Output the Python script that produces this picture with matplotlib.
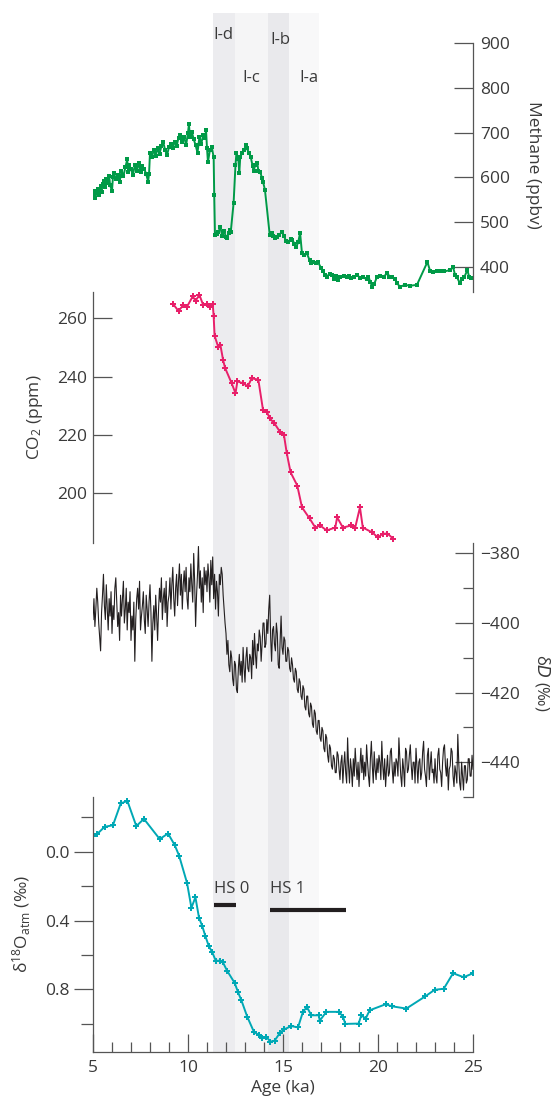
"""Four stacked palaeoclimate records (CH4, CO2, dD, d18Oatm) against age."""
import matplotlib
matplotlib.use("Agg")
import matplotlib.pyplot as plt
import numpy as np
from matplotlib.ticker import MultipleLocator

plt.rcParams["font.family"] = ["Open Sans", "DejaVu Sans"]
plt.rcParams["mathtext.default"] = "regular"

TXT = "#3a3a3a"
SPINE = "#555555"
C_CH4 = "#009a47"
C_CO2 = "#e8206a"
C_DD = "#231f20"
C_O18 = "#00a8b5"

# --------------------------------------------------------------------------- #
# Data
# --------------------------------------------------------------------------- #
ch4_age = [5.0, 5.05, 5.1, 5.2, 5.25, 5.3, 5.4, 5.45, 5.5, 5.6, 5.65, 5.7, 5.8, 5.85,
           5.9, 6.0, 6.05, 6.1, 6.2, 6.3, 6.4, 6.5, 6.6, 6.7, 6.8, 6.85, 6.9, 7.0,
           7.1, 7.2, 7.3, 7.4, 7.5, 7.6, 7.7, 7.8, 7.9, 7.95, 8.0, 8.1, 8.2, 8.3,
           8.4, 8.5, 8.6, 8.7, 8.8, 8.9, 9.0, 9.1, 9.2, 9.3, 9.4, 9.5, 9.6, 9.7,
           9.8, 9.9, 10.0, 10.05, 10.1, 10.2, 10.3, 10.4, 10.5, 10.6, 10.7, 10.8,
           10.9, 10.95, 11.0, 11.05, 11.15, 11.25, 11.35, 11.38, 11.42, 11.5, 11.6,
           11.7, 11.8, 11.9, 12.0, 12.05, 12.15, 12.2, 12.25, 12.4, 12.5, 12.55,
           12.65, 12.7, 12.75, 12.85, 12.95, 13.05, 13.1, 13.2, 13.3, 13.4, 13.45,
           13.55, 13.65, 13.7, 13.8, 13.9, 13.95, 14.05, 14.3, 14.4, 14.5, 14.6,
           14.7, 14.8, 14.95, 15.05, 15.15, 15.25, 15.4, 15.5, 15.6, 15.7, 15.8,
           15.9, 16.0, 16.1, 16.25, 16.4, 16.5, 16.6, 16.75, 16.85, 17.0, 17.1,
           17.2, 17.3, 17.45, 17.6, 17.7, 17.8, 17.9, 18.0, 18.2, 18.35, 18.5,
           18.6, 18.75, 18.9, 19.05, 19.2, 19.4, 19.5, 19.6, 19.7, 19.8, 19.95,
           20.1, 20.3, 20.5, 20.6, 20.75, 20.9, 21.0, 21.15, 21.4, 21.7, 22.05,
           22.6, 22.75, 22.9, 23.1, 23.3, 23.5, 23.8, 23.95, 24.05, 24.15, 24.3,
           24.4, 24.55, 24.7, 24.8, 24.9]
ch4_ppbv = [561, 570, 553, 566, 575, 560, 580, 568, 585, 592, 578, 597, 588, 604,
            582, 570, 600, 610, 596, 606, 590, 614, 603, 622, 640, 612, 628, 618,
            605, 627, 615, 632, 612, 625, 618, 608, 590, 608, 655, 645, 662, 648,
            665, 652, 670, 678, 660, 650, 668, 675, 665, 680, 670, 688, 695, 680,
            690, 672, 700, 719, 690, 702, 685, 672, 655, 690, 675, 695,
            688, 705, 665, 634, 660, 668, 645, 561, 471, 473, 478,
            489, 470, 481, 466, 465, 475, 483, 478, 543, 628, 655,
            640, 610, 645, 655, 661, 672, 665, 655, 646, 625, 615,
            628, 632, 615, 612, 598, 590, 572, 472, 476, 468, 465,
            467, 472, 478, 470, 458, 455, 462, 460, 452, 445, 455,
            476, 430, 427, 431, 415, 409, 411, 409, 410, 398, 392,
            382, 378, 385, 382, 374, 380, 371, 378, 380, 377, 380,
            376, 378, 382, 376, 378, 372, 378, 366, 355, 362, 378,
            380, 378, 387, 378, 378, 372, 365, 355, 360, 358, 360,
            411, 390, 389, 392, 392, 390, 393, 400, 383, 378, 364,
            372, 378, 393, 378, 375]

co2_age = [9.2, 9.5, 9.75, 9.95, 10.25, 10.4, 10.6, 10.8, 11.0, 11.15, 11.3,
           11.35, 11.4, 11.6, 11.7, 11.85, 11.95, 12.3, 12.5, 12.6, 12.9, 13.15,
           13.35, 13.7, 13.95, 14.15, 14.3, 14.55, 14.85, 15.05, 15.2, 15.4,
           15.75, 16.0, 16.4, 16.7, 16.95, 17.3, 17.75, 17.85, 18.15, 18.6,
           18.8, 19.05, 19.2, 19.7, 20.0, 20.25, 20.5, 20.8]
co2_ppm = [265, 262.5, 264.5, 264, 267.5, 266, 268, 264.5, 265, 264, 265,
           260.7, 254, 250, 251, 245.6, 243, 237.7, 234.3, 238.4, 237.7, 236.7,
           239.4, 239, 228.5, 228, 225.7, 224, 221, 220, 213.7, 207.2,
           202.7, 195.2, 191.4, 188.3, 189, 187.3, 188.3, 191.8, 188.3, 189,
           188.3, 195.2, 188.3, 186.6, 184.9, 186.2, 186.2, 184.5]

# dD sampled every 0.05 ka from 5.0 ka (one row per ka)
dd_start, dd_step = 5.0, 0.05
dd_permil = [
    -399, -393, -401, -396, -390, -394, -400, -404, -408, -397,
    -392, -386, -395, -399, -389, -396, -402, -393, -398, -391,   # 5
    -403, -395, -399, -390, -387, -394, -401, -397, -405, -392,
    -398, -393, -388, -400, -396, -390, -402, -394, -397, -391,   # 6
    -405, -398, -402, -394, -411, -399, -393, -390, -396, -388,
    -402, -398, -395, -391, -399, -403, -392, -396, -401, -394,   # 7
    -389, -397, -411, -400, -395, -402, -392, -398, -405, -396,
    -390, -394, -387, -399, -393, -390, -397, -388, -401, -394,   # 8
    -392, -387, -396, -389, -384, -393, -398, -390, -386, -395,
    -388, -383, -392, -386, -396, -389, -385, -391, -384, -393,   # 9
    -396, -387, -391, -383, -389, -394, -380, -388, -401, -392,
    -386, -378, -390, -385, -394, -387, -397, -384, -389, -385,   # 10
    -391, -383, -387, -394, -382, -389, -381, -393, -386, -396,
    -388, -391, -398, -386, -389, -384, -386, -392, -396, -400,   # 11
    -403, -409, -405, -412, -414, -408, -410, -416, -418, -411,
    -412, -419, -420, -413, -409, -415, -411, -417, -407, -413,   # 12
    -417, -410, -407, -413, -414, -409, -410, -416, -405, -412,
    -403, -409, -413, -406, -408, -402, -404, -411, -406, -400,   # 13
    -400, -407, -406, -399, -403, -396, -392, -404, -411, -402,
    -401, -406, -408, -400, -403, -412, -413, -405, -398, -407,   # 14
    -409, -404, -405, -411, -411, -407, -408, -413, -414, -410,
    -412, -416, -417, -413, -414, -419, -420, -416, -417, -421,   # 15
    -422, -418, -419, -424, -425, -421, -421, -426, -427, -423,
    -424, -429, -430, -425, -426, -431, -432, -428, -428, -433,   # 16
    -434, -430, -431, -436, -437, -432, -433, -438, -440, -435,
    -436, -441, -442, -438, -439, -443, -443, -437, -438, -442,   # 17
    -445, -440, -438, -446, -441, -437, -443, -446, -433, -441,
    -446, -439, -442, -447, -439, -444, -436, -441, -445, -440,   # 18
    -447, -441, -436, -443, -438, -445, -440, -444, -435, -440,
    -444, -447, -439, -434, -441, -446, -437, -442, -445, -439,   # 19
    -443, -438, -440, -445, -434, -441, -445, -439, -447, -442,
    -438, -444, -443, -437, -436, -442, -446, -440, -444, -439,   # 20
    -440, -444, -433, -439, -444, -447, -439, -442, -447, -436,
    -437, -443, -442, -438, -435, -441, -445, -440, -440, -446,   # 21
    -436, -441, -446, -440, -439, -445, -443, -437, -434, -442,
    -444, -447, -438, -436, -445, -441, -437, -443, -442, -446,   # 22
    -439, -444, -446, -438, -436, -442, -443, -447, -440, -436,
    -435, -441, -444, -439, -448, -442, -441, -436, -437, -444,   # 23
    -447, -441, -443, -446, -432, -440, -446, -448, -440, -444,
    -448, -441, -441, -446, -445, -439, -439, -444, -444, -438,   # 24
    -442,                                                         # 25
]

o18_age = [5.0, 5.2, 5.61, 6.05, 6.46, 6.81, 7.28, 7.68, 8.51, 8.95, 9.3, 9.53,
           9.95, 10.18, 10.39, 10.58, 10.75, 10.91, 11.09, 11.28, 11.46, 11.67,
           11.84, 12.05, 12.46, 12.63, 12.81, 13.12, 13.47, 13.74, 13.91, 14.12,
           14.33, 14.56, 14.82, 15.05, 15.44, 15.79, 16.05, 16.26, 16.49, 16.89,
           16.93, 17.28, 17.95, 18.16, 18.28, 18.98, 19.12, 19.35, 19.56, 20.4,
           20.75, 21.49, 22.49, 22.98, 23.46, 23.95, 24.51, 25.0]
o18_permil = [-0.092, -0.10, -0.144, -0.153, -0.28, -0.294, -0.148, -0.19, -0.073,
              -0.105, -0.038, 0.023, 0.182, 0.326, 0.265, 0.384, 0.432, 0.489,
              0.547, 0.585, 0.633, 0.633, 0.643, 0.69, 0.763, 0.815, 0.863, 0.959,
              1.046, 1.065, 1.084, 1.074, 1.103, 1.097, 1.055, 1.032, 1.013, 1.02,
              0.93, 0.902, 0.95, 0.95, 0.982, 0.93, 0.93, 0.959, 1.0, 0.998, 0.95,
              0.969, 0.921, 0.886, 0.898, 0.911, 0.84, 0.802, 0.796, 0.706, 0.729,
              0.706]

# Termination sub-stages (shaded) and Heinrich stadials (bars)
band_names = ["I-d", "I-c", "I-b", "I-a"]
band_start = [11.3, 12.5, 14.2, 15.3]
band_end = [12.5, 14.2, 15.3, 16.9]
band_colors = ["#ececef", "#f5f5f6", "#e9e9ec", "#f8f8f9"]
band_label_x = [11.88, 13.34, 14.84, 16.37]
band_label_y = [0.979, 0.937, 0.974, 0.937]

hs_names = ["HS 0", "HS 1"]
hs_start = [11.37, 14.32]
hs_end = [12.53, 18.3]
hs_level = [0.312, 0.336]
hs_label_level = 0.217


# --------------------------------------------------------------------------- #
# Layout helpers (pixel rows of the 554 x 1100 canvas)
# --------------------------------------------------------------------------- #
W, H = 554, 1100
X0, X1 = 93, 473


def _box(top_px, bottom_px):
    return [X0 / W, 1 - bottom_px / H, (X1 - X0) / W, (bottom_px - top_px) / H]


def _clean(ax, keep):
    ax.set_facecolor("none")
    for side in ("left", "right", "top", "bottom"):
        ax.spines[side].set_visible(side in keep)
        ax.spines[side].set_color(SPINE)
        ax.spines[side].set_linewidth(0.9)
    ax.set_xlim(5, 25)
    ax.tick_params(colors=SPINE, labelcolor=TXT, labelsize=12.5, width=0.9)


fig = plt.figure(figsize=(W / 100, H / 100), dpi=100)

# background bands
bg = fig.add_axes(_box(13, 1052))
bg.set_xlim(5, 25)
bg.set_ylim(0, 1)
bg.axis("off")
for s, e, c in zip(band_start, band_end, band_colors):
    bg.axvspan(s, e, color=c, lw=0, zorder=0)
for name, x, y in zip(band_names, band_label_x, band_label_y):
    bg.text(x, y, name, ha="center", va="center", fontsize=12, color=TXT)

# Methane
ax1 = fig.add_axes(_box(43, 292))
_clean(ax1, ["right"])
ax1.plot(ch4_age, ch4_ppbv, color=C_CH4, lw=1.4, marker="s", ms=3, mew=0)
ax1.set_ylim(344, 900)
ax1.set_yticks([400, 500, 600, 700, 800, 900])
ax1.yaxis.tick_right()
ax1.tick_params(axis="y", direction="in", length=14, pad=5)
ax1.set_xticks([])
ax1.set_ylabel("Methane (ppbv)", fontsize=12.5, color=TXT, rotation=270,
               va="center", ha="center")
ax1.yaxis.set_label_coords(1.158, 0.51)

# CO2
ax2 = fig.add_axes(_box(292, 543))
_clean(ax2, ["left"])
ax2.plot(co2_age, co2_ppm, color=C_CO2, lw=1.4, marker="P", ms=4.5, mew=0)
ax2.set_ylim(183, 269)
ax2.set_yticks([200, 220, 240, 260])
ax2.tick_params(axis="y", direction="in", length=14, pad=4)
ax2.set_xticks([])
ax2.set_ylabel("CO$_2$ (ppm)", fontsize=12.5, color=TXT, va="center", ha="center")
ax2.yaxis.set_label_coords(-0.153, 0.502)

# dD
ax3 = fig.add_axes(_box(543, 797))
_clean(ax3, ["right"])
dd_age = dd_start + dd_step * np.arange(len(dd_permil))
ax3.plot(dd_age, dd_permil, color=C_DD, lw=0.8)
ax3.set_ylim(-450, -377)
ax3.set_yticks([-440, -420, -400, -380])
ax3.set_yticklabels(["\u2212440", "\u2212420", "\u2212400", "\u2212380"])
ax3.yaxis.set_minor_locator(MultipleLocator(10))
ax3.yaxis.tick_right()
ax3.tick_params(axis="y", which="major", direction="in", length=13, pad=5)
ax3.tick_params(axis="y", which="minor", direction="in", length=7,
                color=SPINE, width=0.9)
ax3.set_xticks([])
ax3.set_ylabel("δ$\\mathit{D}$ (‰)", fontsize=12, color=TXT, rotation=270,
               va="center", ha="center")
ax3.yaxis.set_label_coords(1.184, 0.448)

# d18O atm
ax4 = fig.add_axes(_box(797, 1052))
_clean(ax4, ["left", "bottom"])
ax4.plot(o18_age, o18_permil, color=C_O18, lw=1.4, marker="P", ms=4.5, mew=0)
ax4.set_ylim(1.163, -0.317)
ax4.set_yticks([0.0, 0.4, 0.8])
ax4.set_yticklabels(["0.0", "0.4", "0.8"])
ax4.yaxis.set_minor_locator(MultipleLocator(0.2))
ax4.tick_params(axis="y", which="major", direction="out", length=14, pad=3)
ax4.tick_params(axis="y", which="minor", direction="out", length=8.5,
                color=SPINE, width=0.9)
ax4.set_xticks([5, 10, 15, 20, 25])
ax4.xaxis.set_minor_locator(MultipleLocator(1))
ax4.tick_params(axis="x", which="major", direction="in", length=13, pad=6)
ax4.tick_params(axis="x", which="minor", direction="in", length=7,
                color=SPINE, width=0.9)
ax4.set_xlabel("Age (ka)", fontsize=12.5, color=TXT, labelpad=3)
ax4.set_ylabel("δ$^{18}$O$_{atm}$ (‰)", fontsize=12.5, color=TXT,
               va="center", ha="center")
ax4.yaxis.set_label_coords(-0.187, 0.502)

for name, s, e, lvl in zip(hs_names, hs_start, hs_end, hs_level):
    ax4.plot([s, e], [lvl, lvl], color="#231f20", lw=3, solid_capstyle="butt")
    ax4.text(s, hs_label_level, name, ha="left", va="center", fontsize=12,
             color=TXT)

fig.savefig("out.png", dpi=100, facecolor="white")
